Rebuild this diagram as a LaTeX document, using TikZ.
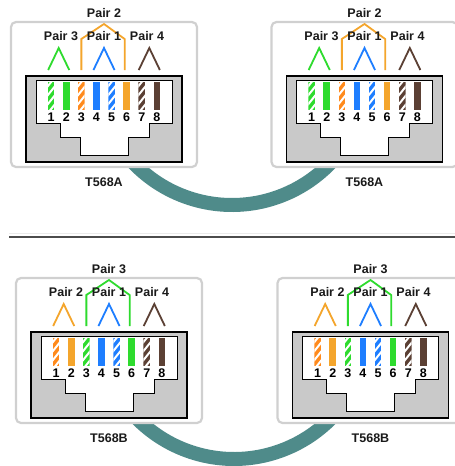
\documentclass[tikz,border=0pt]{standalone}
\usepackage{fontspec}
\setmainfont{Liberation Sans}

\definecolor{wgreen}{HTML}{2EDB2E}
\definecolor{worange}{HTML}{FF8A1C}
\definecolor{wlorange}{HTML}{F4A52C}
\definecolor{wblue}{HTML}{1E7EFF}
\definecolor{wbrown}{HTML}{5B4034}
\definecolor{cable}{HTML}{4F8B8A}
\definecolor{panelline}{HTML}{D0D0D0}
\definecolor{jackgray}{HTML}{C9C9C9}
\definecolor{labelink}{HTML}{1A1A1A}

\tikzset{
  panelbox/.style={draw=panelline, line width=2.2pt, rounded corners=5pt, fill=white},
  jackbox/.style={draw=black, line width=1.8pt, fill=jackgray},
  plugshape/.style={draw=black, line width=0.8pt, fill=white},
  pairline/.style={line width=1.8pt, line join=miter},
  pairlabel/.style={font=\bfseries\fontsize{12.5}{14}\selectfont, text=labelink, inner sep=0pt},
  pinlabel/.style={font=\bfseries\fontsize{12.5}{14}\selectfont, inner sep=0pt},
  stdlabel/.style={font=\bfseries\fontsize{12.5}{14}\selectfont, text=labelink, inner sep=0pt},
  cableband/.style={draw=cable, line width=14pt},
  rule/.style={draw=black!70, line width=1.5pt},
}

% x position of pin #1 relative to the jack centre
\newcommand\pinx[1]{15.1*(#1-4.5)}

% jack housing: #1 name, #2 centre x, #3 top of jack, #4 standard
\newcommand\rjjack[4]{%
  \begin{scope}[shift={(#2,#3)}]
    \draw[panelbox] (-93,-54) rectangle (93,91);
    \draw[jackbox] (-78,0) rectangle (78,86);
    \draw[plugshape] (-68,4) -- (68,4) -- (68,47) -- (45,47) -- (45,61)
      -- (24,61) -- (24,79) -- (-24,79) -- (-24,61) -- (-44,61)
      -- (-44,47) -- (-68,47) -- cycle;
    \node[stdlabel] (#1-std) at (0,106) {#4};
    \foreach \n in {1,...,8}
      \node[pinlabel] (#1-n\n) at ({\pinx{\n}},41) {\n};
  \end{scope}}

% solid wire: #1 pin, #2 colour
\newcommand\rjsolid[2]{%
  \fill[#2] ({\pinx{#1}-3.3},6) rectangle ++(6.6,28);}

% wire with white tracer stripes: #1 pin, #2 colour
\newcommand\rjstriped[2]{%
  \begin{scope}
    \clip ({\pinx{#1}-3.3},6) rectangle ++(6.6,28);
    \fill[#2] ({\pinx{#1}-3.3},6) rectangle ++(6.6,28);
    \foreach \k in {11,20,29,38}
      \draw[white, line width=2pt] ({\pinx{#1}-4},\k) -- ++(8,-10);
  \end{scope}}

% small pair chevron over two adjacent pins: #1 #2 pins, #3 colour
\newcommand\rjchev[3]{%
  \draw[pairline, #3] ({\pinx{#1}-3},-6) -- ({(\pinx{#1}+\pinx{#2})/2},-28)
    -- ({\pinx{#2}+3},-6);}

% wide pair bracket over pins 3 and 6: #1 colour
\newcommand\rjspan[1]{%
  \draw[pairline, #1] ({\pinx{3}},-6) -- ({\pinx{3}},-37) -- (0,-52)
    -- ({\pinx{6}-2},-37) -- ({\pinx{6}-2},-6);}

% T568A wiring and pair labels: #1 name, #2 centre x, #3 top of jack
\newcommand\rjwiringA[3]{%
  \begin{scope}[shift={(#2,#3)}]
    \rjstriped{1}{wgreen}\rjsolid{2}{wgreen}
    \rjstriped{3}{worange}\rjsolid{4}{wblue}
    \rjstriped{5}{wblue}\rjsolid{6}{wlorange}
    \rjstriped{7}{wbrown}\rjsolid{8}{wbrown}
    \rjspan{wlorange}
    \rjchev{1}{2}{wgreen}\rjchev{4}{5}{wblue}\rjchev{7}{8}{wbrown}
    \node[pairlabel] (#1-top) at (0,-63) {Pair 2};
    \node[pairlabel] (#1-l) at (-43,-40) {Pair 3};
    \node[pairlabel] (#1-m) at (0,-40) {Pair 1};
    \node[pairlabel] (#1-r) at (43,-40) {Pair 4};
  \end{scope}}

% T568B wiring and pair labels: #1 name, #2 centre x, #3 top of jack
\newcommand\rjwiringB[3]{%
  \begin{scope}[shift={(#2,#3)}]
    \rjstriped{1}{worange}\rjsolid{2}{wlorange}
    \rjstriped{3}{wgreen}\rjsolid{4}{wblue}
    \rjstriped{5}{wblue}\rjsolid{6}{wgreen}
    \rjstriped{7}{wbrown}\rjsolid{8}{wbrown}
    \rjspan{wgreen}
    \rjchev{1}{2}{wlorange}\rjchev{4}{5}{wblue}\rjchev{7}{8}{wbrown}
    \node[pairlabel] (#1-top) at (0,-63) {Pair 3};
    \node[pairlabel] (#1-l) at (-43,-40) {Pair 2};
    \node[pairlabel] (#1-m) at (0,-40) {Pair 1};
    \node[pairlabel] (#1-r) at (43,-40) {Pair 4};
  \end{scope}}

\begin{document}
\begin{tikzpicture}[x=1pt, y=-1pt]
  \useasboundingbox (0,0) rectangle (455,466);
  \clip (0,0) rectangle (455,466);
  \fill[white] (0,0) rectangle (455,466);

  % patch cables running between the two jacks
  \draw[cableband] (232,68.5) ++(140:136.5) arc[start angle=140, end angle=40, radius=136.5];
  \draw[cableband] (234,322.5) ++(140:136.5) arc[start angle=140, end angle=40, radius=136.5];

  % upper pair: T568A to T568A
  \rjjack{ta}{104}{76}{T568A}
  \rjwiringA{ta}{104}{76}
  \rjjack{tb}{364.5}{76}{T568A}
  \rjwiringA{tb}{364.5}{76}

  % divider
  \draw[draw=black!8, line width=1pt] (9,233.5) -- (455,233.5);
  \draw[rule] (9,237) -- (455,237);

  % lower pair: T568B to T568B
  \rjjack{ba}{109}{332}{T568B}
  \rjwiringB{ba}{109}{332}
  \rjjack{bb}{370.5}{332}{T568B}
  \rjwiringB{bb}{370.5}{332}
\end{tikzpicture}
\end{document}
